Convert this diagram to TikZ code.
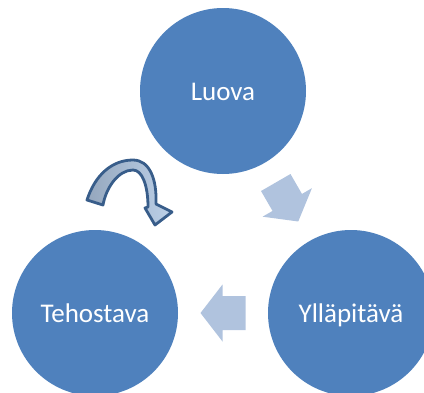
\documentclass[tikz,border=0pt]{standalone}
\usepackage{fontspec}
\setmainfont{Carlito}
\usetikzlibrary{calc}
\definecolor{kreisblau}{HTML}{4F81BD}
\definecolor{pfeilblau}{HTML}{B0C3DE}
\definecolor{randblau}{HTML}{385D8A}
\definecolor{bogenlinks}{HTML}{95A7BD}
\definecolor{bogenrechts}{HTML}{BCD0E8}
\begin{document}
\begin{tikzpicture}[x=1pt,y=-1pt,
    kreis/.style={circle,fill=kreisblau,minimum size=166pt,inner sep=0pt,
      text=white,text height=18pt,text depth=0pt,font=\fontsize{27}{32}\selectfont},
    blockpfeil/.pic={\fill[pfeilblau] (-22.5,-17) -- (0.5,-17) -- (0.5,-28.5) -- (22.5,0)
      -- (0.5,28.5) -- (0.5,17) -- (-22.5,17) -- cycle;},
    bogen/.style={draw=randblau,line width=2.8pt,line join=round,
      left color=bogenlinks,right color=bogenrechts}]
  \useasboundingbox (0,0) rectangle (424,392);
  % Kreise
  \node[kreis] (luova) at (223,91) {Luova};
  \node[kreis] (yllapitava) at (351,313) {Ylläpitävä};
  \node[kreis] (tehostava) at (95,313) {Tehostava};
  % Pfeile zwischen den Kreisen
  \pic[rotate=-60] at ($(luova)!0.5!(yllapitava)$) {blockpfeil};
  \pic[rotate=180] at ($(yllapitava)!0.5!(tehostava)$) {blockpfeil};
  % Bogenpfeil
  \draw[bogen] (87,200) .. controls (95,175) and (112,160) .. (133,160)
    .. controls (150,160) and (157,180) .. (156,204) -- (172,212) -- (155,225)
    -- (145,208) -- (148,207) .. controls (148,185) and (142,170) .. (133,170)
    .. controls (118,170) and (106,188) .. (103,205) -- cycle;
\end{tikzpicture}
\end{document}
